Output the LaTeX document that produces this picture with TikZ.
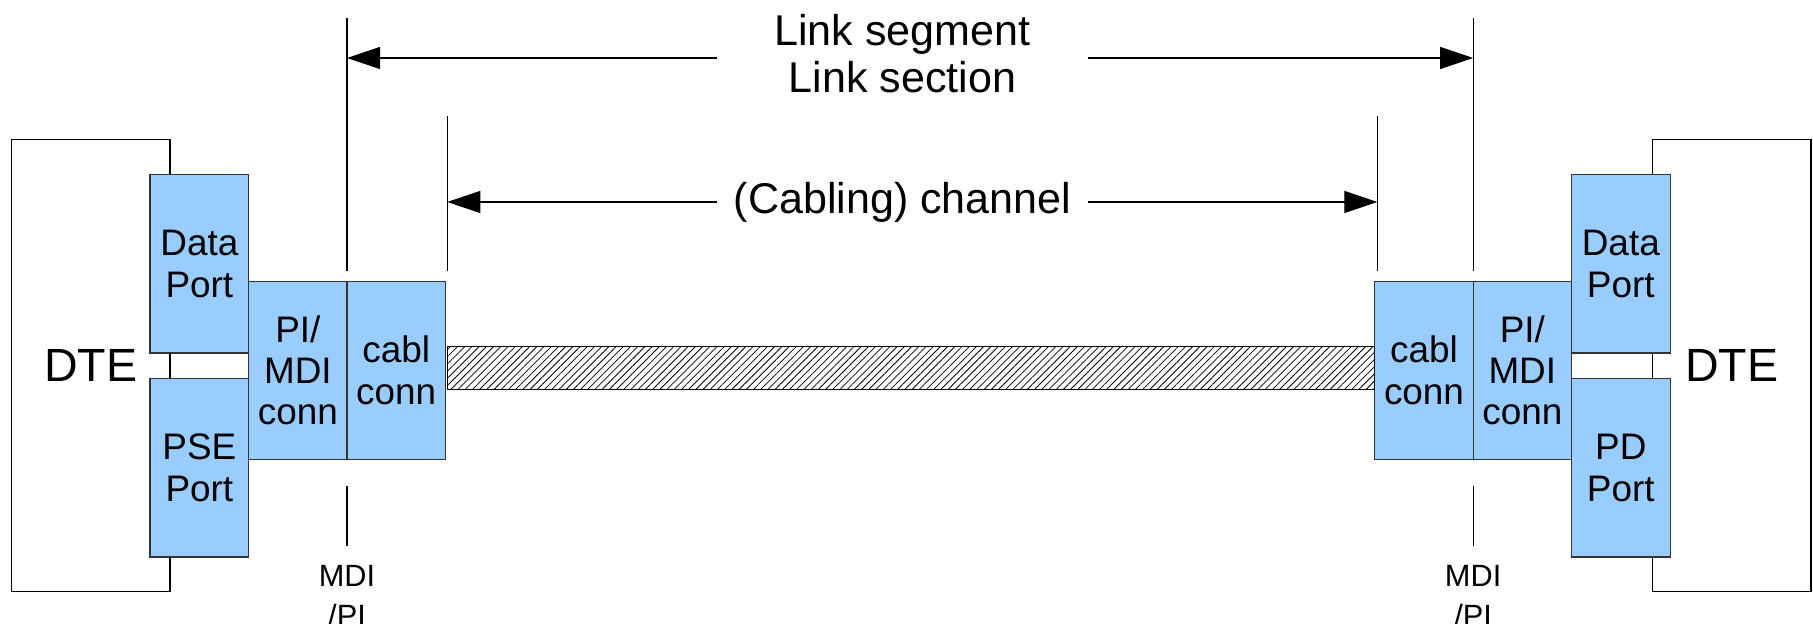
\documentclass[tikz,border=0pt]{standalone}
\usepackage{fontspec}
\setmainfont{Liberation Sans}
\usepackage{tikz}
\usetikzlibrary{
  arrows.meta,
  patterns.meta,
  positioning,
}
\definecolor{portblue}{RGB}{153,204,255}
\tikzset{
  >={Triangle[length=0.66cm,width=0.44cm]},
}

\begin{document}
\begin{tikzpicture}[
      every node/.style={outer sep=0pt, inner sep=0pt},
      dte/.style={draw=black, line width=0.6pt, minimum width=3.166cm,
        minimum height=9.04cm, font=\fontsize{26.5}{30}\selectfont},
      port/.style={draw=black!80, fill=portblue, line width=0.6pt,
        minimum width=1.974cm, minimum height=3.566cm, align=center,
        font=\fontsize{21}{23.5}\selectfont},
      conn/.style={port, minimum width=1.966cm, minimum height=3.56cm},
      cable/.style={draw=black, line width=0.6pt, minimum height=0.866cm,
        pattern={Lines[angle=45,distance=2.9pt,line width=0.45pt]}},
      refline/.style={draw=black, line width=0.6pt},
      spanlabel/.style={minimum width=7.42cm, align=center,
        font=\fontsize{24.5}{26.7}\selectfont},
      mdi/.style={align=center, font=\fontsize{17.5}{22.8}\selectfont},
    ]
      \useasboundingbox (0,0) rectangle (36.26,12.48);

      % left station
      \node [dte] at (1.817,5.166) (dteL) {DTE};
      \node [port] at (3.987,7.203) (dataL) {Data\\Port};
      \node [port, below=0.514cm of dataL] (pseL) {PSE\\Port};
      \node [conn, anchor=west] at (dataL.east |- 0,5.074) (pimdiL) {PI/\\MDI\\conn};
      \node [conn, anchor=west] at (pimdiL.east) (cablL) {cabl\\conn};

      % right station
      \node [dte] at (34.636,5.166) (dteR) {DTE};
      \node [port] at (32.416,7.203) (dataR) {Data\\Port};
      \node [port, below=0.514cm of dataR] (pdR) {PD\\Port};
      \node [conn, anchor=east] at (dataR.west |- pimdiL) (pimdiR) {PI/\\MDI\\conn};
      \node [conn, anchor=east] at (pimdiR.west) (cablR) {cabl\\conn};

      % the cable
      \node [cable, anchor=west, minimum width=18.551cm] at ([xshift=0.04cm]cablL.east |- 0,5.126) (cable) {};

      % reference lines
      \draw [refline] ([yshift=2mm]pimdiL.north east) -- ++(0,5.07);
      \draw [refline] ([yshift=2mm]pimdiR.north west) -- ++(0,5.07);
      \coordinate (chanLx) at (cable.west |- cablL.north);
      \coordinate (chanRx) at ([xshift=0.05cm]cable.east |- cablR.north);
      \draw [refline] ([yshift=2mm]chanLx) -- ++(0,3.1);
      \draw [refline] ([yshift=2mm]chanRx) -- ++(0,3.1);

      \draw [refline] ([yshift=-5.3mm]pimdiL.south east) -- ++(0,-1.2) coordinate (tickL);
      \draw [refline] ([yshift=-5.3mm]pimdiR.south west) -- ++(0,-1.2) coordinate (tickR);
      \node [mdi, below=0.39cm of tickL] (mdiL) {MDI\\/PI};
      \node [mdi, below=0.39cm of tickR] (mdiR) {MDI\\/PI};

      % spans
      \node [spanlabel] at (18.05,11.41) (segment) {Link segment\\Link section};
      \node [spanlabel] at (18.05,8.44) (channel) {(Cabling) channel};
      \coordinate (segL) at (pimdiL.east |- 0,11.32);
      \coordinate (segR) at (pimdiR.west |- 0,11.32);
      \coordinate (chanL) at (chanLx |- channel);
      \coordinate (chanR) at (chanRx |- channel);
      \draw [->, refline] (segment.west |- segL) -- (segL);
      \draw [->, refline] (segment.east |- segR) -- (segR);
      \draw [->, refline] (channel.west) -- (chanL);
      \draw [->, refline] (channel.east) -- (chanR);
    \end{tikzpicture}
\end{document}
